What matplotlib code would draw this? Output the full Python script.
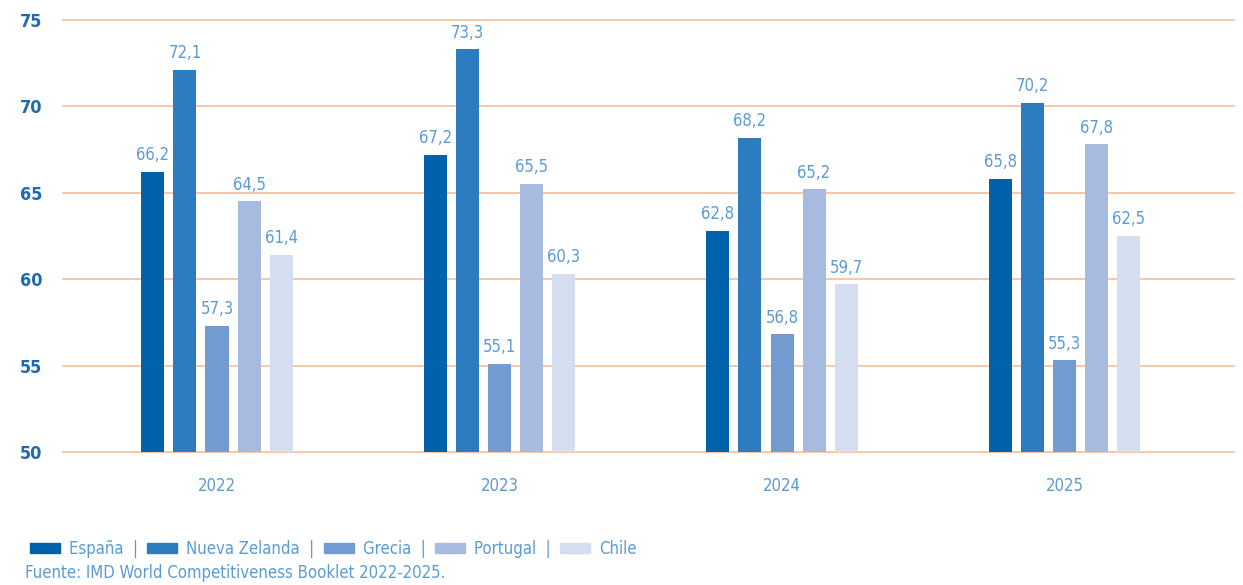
import matplotlib.pyplot as plt
import numpy as np
from matplotlib.patches import Patch

plt.rcParams['font.family'] = ['DejaVu Sans']
plt.rcParams['font.stretch'] = 'condensed'

years = ['2022', '2023', '2024', '2025']
countries = ['España', 'Nueva Zelanda', 'Grecia', 'Portugal', 'Chile']
espana = [66.2, 67.2, 62.8, 65.8]
nueva_zelanda = [72.1, 73.3, 68.2, 70.2]
grecia = [57.3, 55.1, 56.8, 55.3]
portugal = [64.5, 65.5, 65.2, 67.8]
chile = [61.4, 60.3, 59.7, 62.5]
series = [espana, nueva_zelanda, grecia, portugal, chile]
colors = ['#0061ad', '#2e7cc0', '#729bd2', '#a7badf', '#d5ddf1']

label_col = '#5b9bd5'
tick_col = '#1e6ab2'
grid_col = '#f6b895'

fig = plt.figure(figsize=(12.43, 5.85), dpi=100)
ax = fig.add_axes([0.0507, 0.2274, 0.9421, 0.7384])

x = np.arange(len(years))
pitch = 0.1134
width = 0.0815
for i, (vals, c) in enumerate(zip(series, colors)):
    pos = x + (i - 2) * pitch
    ax.bar(pos, np.array(vals) - 50, width, bottom=50, color=c, zorder=3)
    for p, v in zip(pos, vals):
        ax.text(p, v + 0.45, f'{v:.1f}'.replace('.', ','), ha='center', va='bottom',
                fontsize=12, color=label_col)

ax.set_ylim(50, 75)
ax.set_xlim(-0.545, 3.60)
ax.set_yticks([50, 55, 60, 65, 70, 75])
for yv in [50, 55, 60, 65, 70, 75]:
    ax.axhline(yv, color=grid_col, linewidth=1.1, zorder=0, clip_on=False)
for s in ax.spines.values():
    s.set_visible(False)
ax.tick_params(axis='y', length=0, pad=15, labelsize=13, labelcolor=tick_col)
for t in ax.get_yticklabels():
    t.set_fontweight('bold')
ax.set_xticks(x)
ax.set_xticklabels(years)
ax.tick_params(axis='x', length=0, pad=18, labelsize=12, labelcolor=label_col)

handles = [Patch(color=c) for c in colors]
labels = [n + '  |' for n in countries[:-1]] + [countries[-1]]
fig.legend(handles, labels, loc='lower left', bbox_to_anchor=(0.012, 0.021), ncol=5,
           frameon=False, fontsize=12, handlelength=1.8, handleheight=0.5,
           handletextpad=0.55, columnspacing=0.55, labelcolor=label_col)
fig.text(0.02, 0.005, 'Fuente: IMD World Competitiveness Booklet 2022-2025.',
         fontsize=12, color=label_col, ha='left', va='bottom')

fig.savefig('out.png', dpi=100)
